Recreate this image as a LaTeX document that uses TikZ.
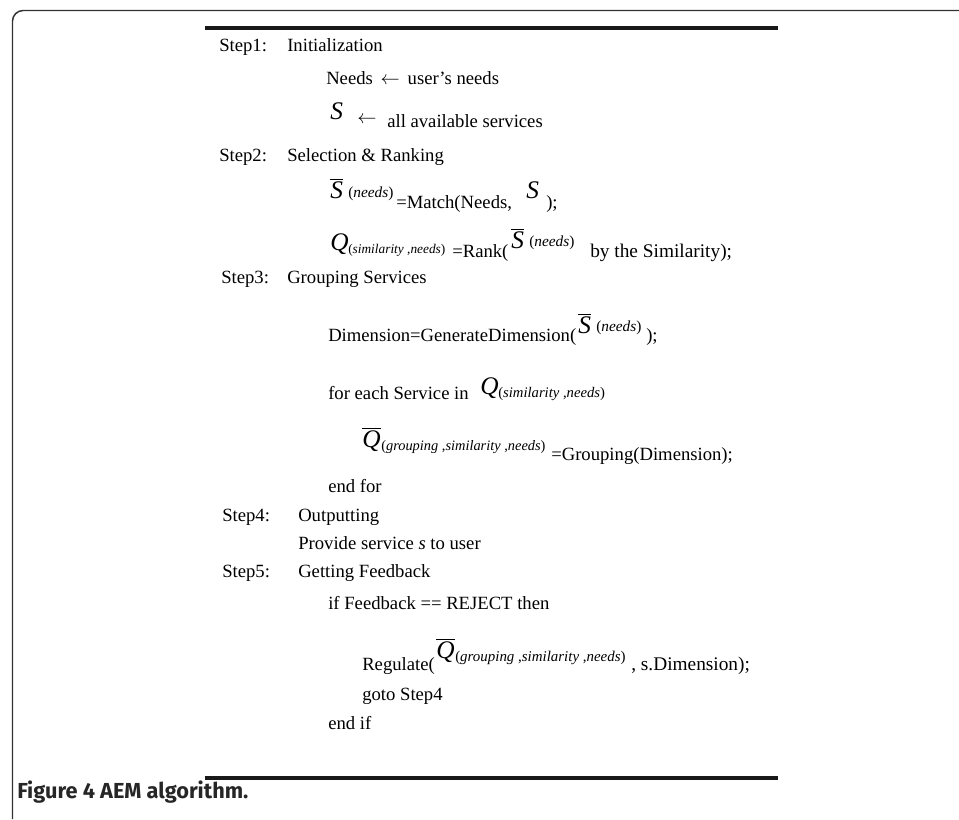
\documentclass[tikz,border=0pt]{standalone}
\usepackage{fontspec}
\setmainfont{Liberation Serif}
\newfontfamily\capfont{Fira Sans}
\newcommand\ovl[1]{$\overline{\hbox{#1}}$}
\tikzset{
  x=0.75pt, y=-0.75pt,
  txt/.style={anchor=base west, inner sep=0pt, font=\fontsize{14}{17}\selectfont},
  big/.style={anchor=base west, inner sep=0pt, font=\fontsize{19}{22}\selectfont\itshape},
  sub/.style={anchor=base west, inner sep=0pt, font=\fontsize{11.5}{13}\selectfont},
  frameline/.style={draw=black!80, line width=1.1pt},
  rulebar/.style={draw=black!90, line width=3pt}
}
\begin{document}
\begin{tikzpicture}
\useasboundingbox (0,0) rectangle (959,819);
% frame
\coordinate (fa) at (12.5,819);
\coordinate (fb) at (959,10.5);
\draw[frameline, rounded corners=8] (fa) |- (fb);
% rules
\coordinate (r1a) at (205,28); \coordinate (r1b) at (778,28);
\coordinate (r2a) at (205,778); \coordinate (r2b) at (778,778);
\draw[rulebar] (r1a) -- (r1b);
\draw[rulebar] (r2a) -- (r2b);
% Step 1
\node[txt] (s1) at (219,51) {Step1:};
\node[txt] (s1t) at (287,51) {Initialization};
\node[txt] (l1) at (326,84) {Needs \,$\leftarrow$\, user's needs};
\node[big] (l2s) at (330,119) {S};
\node[txt] (l2a) at (357,123) {$\leftarrow$};
\node[txt] (l2t) at (387,127) {all available services};
% Step 2
\node[txt] (s2) at (219,161) {Step2:};
\node[txt] (s2t) at (287,161) {Selection \& Ranking};
\node[big] (l3s) at (330,198) {\ovl{S}};
\node[sub] (l3n) at (348,197) {(\textit{needs})};
\node[txt] (l3t) at (396,208) {=Match(Needs,};
\node[big] (l3s2) at (526,198) {S};
\node[txt] (l3e) at (546,208) {);};
\node[big] (l4q) at (330,250) {Q};
\node[sub, font=\fontsize{10}{12}\selectfont] (l4n) at (348,253) {(\textit{similarity} ,\textit{needs})};
\node[txt] (l4t) at (452,257) {=Rank(};
\node[big] (l4s) at (511,248) {\ovl{S}};
\node[sub] (l4n2) at (529,246) {(\textit{needs})};
\node[txt, font=\fontsize{14.5}{17}\selectfont] (l4e) at (590,257) {by the Similarity);};
% Step 3
\node[txt] (s3) at (221,283) {Step3:};
\node[txt] (s3t) at (287,283) {Grouping Services};
\node[txt] (l5t) at (328,341) {Dimension=GenerateDimension(};
\node[big] (l5s) at (578,333) {\ovl{S}};
\node[sub] (l5n) at (596,331) {(\textit{needs})};
\node[txt] (l5e) at (646,341) {);};
\node[txt] (l6t) at (328,399) {for each Service in};
\node[big] (l6q) at (480,394) {Q};
\node[sub, font=\fontsize{11}{13}\selectfont] (l6n) at (498,397) {(\textit{similarity} ,\textit{needs})};
\node[big] (l7q) at (362,447) {\ovl{Q}};
\node[sub, font=\fontsize{10.8}{13}\selectfont] (l7n) at (381,450) {(\textit{grouping} ,\textit{similarity} ,\textit{needs})};
\node[txt] (l7t) at (551,460) {=Grouping(Dimension);};
\node[txt] (l8) at (328,492) {end for};
% Step 4
\node[txt] (s4) at (222,521) {Step4:};
\node[txt] (s4t) at (298,521) {Outputting};
\node[txt] (l9) at (298,549) {Provide service \textit{s} to user};
% Step 5
\node[txt] (s5) at (222,577) {Step5:};
\node[txt] (s5t) at (298,577) {Getting Feedback};
\node[txt] (l10) at (328,609) {if Feedback == REJECT then};
\node[txt] (l11t) at (362,670) {Regulate(};
\node[big] (l11q) at (436,658) {\ovl{Q}};
\node[sub, font=\fontsize{11.2}{13}\selectfont] (l11n) at (455,661) {(\textit{grouping} ,\textit{similarity} ,\textit{needs})};
\node[txt, font=\fontsize{14.5}{17}\selectfont] (l11e) at (631,670) {, s.Dimension);};
\node[txt] (l12) at (362,700) {goto Step4};
\node[txt] (l13) at (328,729) {end if};
% caption
\node[anchor=base west, inner sep=0pt, font=\capfont\bfseries\fontsize{16.3}{18}\selectfont, text=black!85] (cap) at (17,798) {Figure 4 AEM algorithm.};
\end{tikzpicture}
\end{document}
